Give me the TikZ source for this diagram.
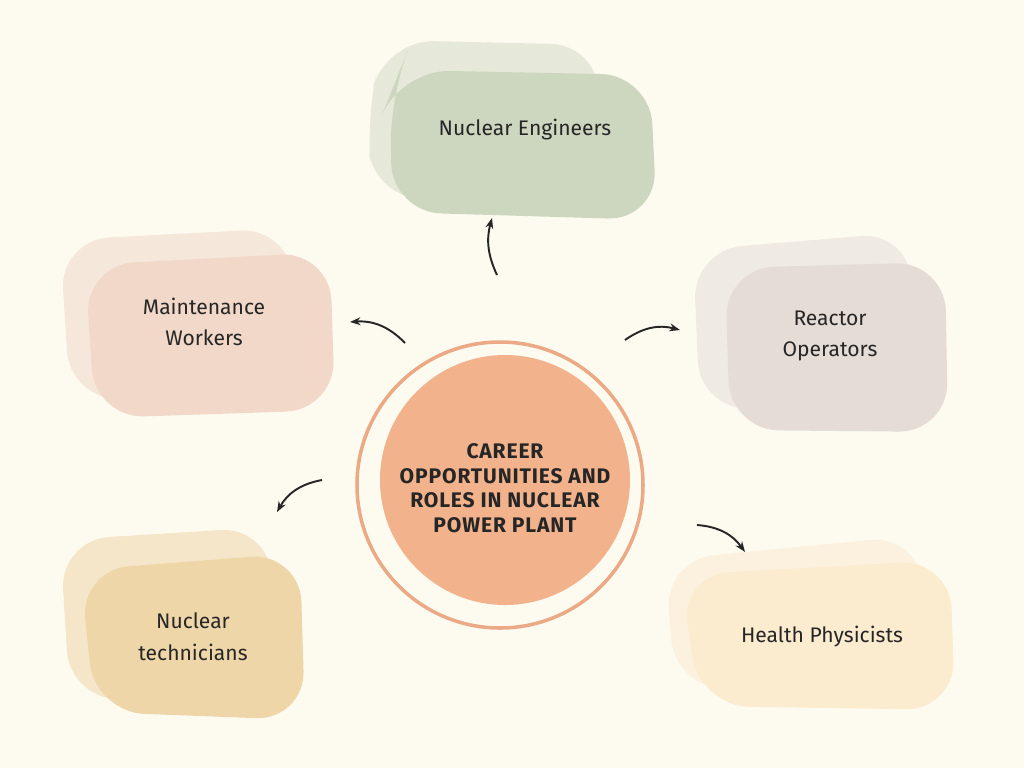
\documentclass[tikz,border=0pt]{standalone}
\usepackage{fontspec}
\setmainfont{Fira Sans}
\usetikzlibrary{arrows.meta,positioning}
\definecolor{bg}{HTML}{FDFBEF}
\definecolor{engF}{HTML}{CDD7BF}\definecolor{engB}{HTML}{E6E9D9}
\definecolor{mntF}{HTML}{F1D8C8}\definecolor{mntB}{HTML}{F6E7DB}
\definecolor{opF}{HTML}{E5DCD5}\definecolor{opB}{HTML}{EFEAE2}
\definecolor{tecF}{HTML}{EFD6A8}\definecolor{tecB}{HTML}{F5E6CA}
\definecolor{phyF}{HTML}{FBEBCF}\definecolor{phyB}{HTML}{FCF1DE}
\definecolor{core}{HTML}{F2B38C}\definecolor{ring}{HTML}{EBA985}
\begin{document}
\begin{tikzpicture}[x=0.02cm,y=-0.02cm]
\tikzstyle{blob}=[rounded corners=28pt]
\tikzstyle{label}=[align=center,font=\large,text=black!85]
\tikzstyle{arr}=[-{Stealth[length=6pt]},line width=1.1pt,black!85]
\fill[bg] (0,0) rectangle (1024,768);
% Nuclear Engineers
\fill[engB,blob] (365,120) -- (385,40) -- (600,45) -- (595,195) -- (375,200) -- cycle;
\fill[engF,blob] (390,95) -- (400,70) -- (650,75) -- (657,220) -- (392,212) -- cycle;
\node[label] (eng) at (525,130) {Nuclear Engineers};
% Maintenance Workers
\fill[mntB,blob] (60,240) -- (290,228) -- (300,395) -- (70,400) -- cycle;
\fill[mntF,blob] (85,265) -- (330,252) -- (335,410) -- (95,418) -- cycle;
\node[label] (mnt) at (204,322) {Maintenance\\[4pt]Workers};
% Reactor Operators
\fill[opB,blob] (693,250) -- (910,232) -- (915,405) -- (700,410) -- cycle;
\fill[opF,blob] (725,268) -- (945,262) -- (948,432) -- (730,430) -- cycle;
\node[label] (op) at (830,336) {Reactor\\[4pt]Operators};
% Nuclear technicians
\fill[tecB,blob] (60,540) -- (270,527) -- (275,695) -- (70,700) -- cycle;
\fill[tecF,blob] (80,570) -- (300,553) -- (305,720) -- (95,712) -- cycle;
\node[label] (tec) at (193,637) {Nuclear\\[4pt]technicians};
% Health Physicists
\fill[phyB,blob] (665,560) -- (920,535) -- (925,690) -- (675,688) -- cycle;
\fill[phyF,blob] (680,575) -- (950,560) -- (955,710) -- (700,706) -- cycle;
\node[label] (phy) at (822,637) {Health Physicists};
% centre
\fill[core] (505,480) circle (125);
\draw[ring,line width=2pt] (500,485) circle (143);
\node[label,font=\large\bfseries\addfontfeatures{LetterSpace=4}] (hub) at (505,488)
  {CAREER\\OPPORTUNITIES AND\\ROLES IN NUCLEAR\\POWER PLANT};
% arrows
\coordinate (a1) at (497,275); \coordinate (b1) at (492,218);
\coordinate (a2) at (405,343); \coordinate (b2) at (350,322);
\coordinate (a3) at (625,340); \coordinate (b3) at (680,330);
\coordinate (a4) at (322,480); \coordinate (b4) at (277,512);
\coordinate (a5) at (697,525); \coordinate (b5) at (745,552);
\draw[arr] (a1) to[bend left=20] (b1);
\draw[arr] (a2) to[bend right=25] (b2);
\draw[arr] (a3) to[bend left=25] (b3);
\draw[arr] (a4) to[bend right=25] (b4);
\draw[arr] (a5) to[bend left=25] (b5);
\end{tikzpicture}
\end{document}
